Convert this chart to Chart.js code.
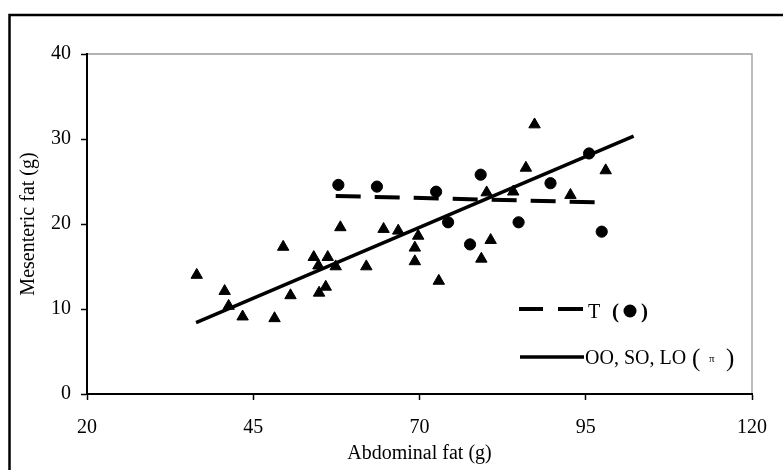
<!DOCTYPE html>
<html>
<head>
<meta charset="utf-8">
<script src="https://cdn.jsdelivr.net/npm/chart.js@4.4.1/dist/chart.umd.min.js"></script>
<style>
  html, body { margin: 0; padding: 0; background: #fff; }
  #wrap { position: relative; width: 783px; height: 470px; }
</style>
</head>
<body>
<div id="wrap"><canvas id="c" width="783" height="470"></canvas></div>
<script>
// Triangles: OO, SO, LO groups
const triX = [36.5, 40.7, 41.3, 43.4, 48.2, 49.5, 50.6, 54.1, 56.2, 54.8, 57.4, 55.9, 54.9, 58.1,
              62.0, 64.6, 66.8, 69.8, 69.3, 69.3, 72.9, 80.1, 80.7, 79.3, 84.1, 86.0, 87.3, 92.7, 98.0];
const triY = [14.0, 12.1, 10.35, 9.1, 8.9, 17.3, 11.6, 16.1, 16.1, 15.1, 15.0, 12.6, 11.9, 19.6,
              15.0, 19.4, 19.2, 18.6, 17.2, 15.6, 13.3, 23.7, 18.1, 15.9, 23.8, 26.6, 31.7, 23.4, 26.3];
// Circles: T group
const circX = [57.8, 63.6, 72.5, 74.3, 77.6, 79.2, 84.9, 89.7, 95.5, 97.4];
const circY = [24.6, 24.4, 23.8, 20.2, 17.6, 25.8, 20.2, 24.8, 28.3, 19.1];
// Regression lines (endpoints)
const fitOX = [36.4, 102.2];
const fitOY = [8.4, 30.35];
const fitTX = [57.4, 96.7];
const fitTY = [23.3, 22.55];
// Axis ticks
const xTicks = [20, 45, 70, 95, 120];
const yTicks = [0, 10, 20, 30, 40];

const pts = (xs, ys) => xs.map((x, i) => ({ x: x, y: ys[i] }));
const SERIF = '"Liberation Serif", "Times New Roman", serif';

const decor = {
  id: 'decor',
  beforeDraw(chart) {
    const ctx = chart.ctx;
    ctx.save();
    ctx.strokeStyle = '#000';
    ctx.lineWidth = 2.5;
    ctx.beginPath();
    ctx.moveTo(9.5, 470);
    ctx.lineTo(9.5, 15);
    ctx.lineTo(783, 15);
    ctx.stroke();
    ctx.restore();
  },
  afterDraw(chart) {
    const ctx = chart.ctx;
    const a = chart.chartArea;
    ctx.save();
    // gray plot frame top & right
    ctx.strokeStyle = '#9a9a9a';
    ctx.lineWidth = 1.3;
    ctx.beginPath();
    ctx.moveTo(a.left + 1, a.top);
    ctx.lineTo(a.right, a.top);
    ctx.lineTo(a.right, a.bottom - 1);
    ctx.stroke();

    // legend
    ctx.strokeStyle = '#000';
    ctx.fillStyle = '#000';
    ctx.lineWidth = 4;
    ctx.beginPath();
    ctx.moveTo(519, 309); ctx.lineTo(543, 309);
    ctx.moveTo(558, 309); ctx.lineTo(583, 309);
    ctx.stroke();
    ctx.lineWidth = 3.5;
    ctx.beginPath();
    ctx.moveTo(520, 357); ctx.lineTo(584, 357);
    ctx.stroke();

    ctx.textBaseline = 'alphabetic';
    ctx.textAlign = 'left';
    ctx.font = '20px ' + SERIF;
    ctx.fillText('T', 588, 318);
    ctx.font = 'bold 21px ' + SERIF;
    ctx.fillText('(', 612, 318);
    ctx.fillText(')', 641, 318);
    ctx.beginPath();
    ctx.arc(630, 311, 6.5, 0, Math.PI * 2);
    ctx.fill();

    ctx.font = '20px ' + SERIF;
    ctx.fillText('OO, SO, LO', 585, 364);
    ctx.font = '25px ' + SERIF;
    ctx.fillText('(', 692, 366);
    ctx.fillText(')', 726, 366);
    ctx.font = '11px ' + SERIF;
    ctx.fillText('\u03c0', 709, 362);
    ctx.restore();
  }
};

new Chart(document.getElementById('c'), {
  type: 'scatter',
  data: {
    datasets: [
      { label: 'OO, SO, LO', data: pts(triX, triY), pointStyle: 'triangle', pointRadius: 6.6,
        backgroundColor: '#000', borderColor: '#000', borderWidth: 1 },
      { label: 'T', data: pts(circX, circY), pointStyle: 'circle', pointRadius: 5.6,
        backgroundColor: '#000', borderColor: '#000', borderWidth: 1 },
      { label: 'fitO', data: pts(fitOX, fitOY), showLine: true, pointRadius: 0,
        borderColor: '#000', borderWidth: 3.5, fill: false },
      { label: 'fitT', data: pts(fitTX, fitTY), showLine: true, pointRadius: 0,
        borderColor: '#000', borderWidth: 4, borderDash: [25, 14], borderCapStyle: 'butt', fill: false }
    ]
  },
  options: {
    responsive: false,
    animation: false,
    devicePixelRatio: 1,
    layout: { padding: { top: 54, right: 28, left: 0, bottom: 0 } },
    plugins: { legend: { display: false }, tooltip: { enabled: false } },
    scales: {
      x: {
        type: 'linear', min: 20, max: 120,
        afterBuildTicks: s => { s.ticks = xTicks.map(v => ({ value: v })); },
        afterFit: s => { s.height = 76; },
        ticks: { color: '#000', font: { family: SERIF, size: 20 }, padding: 16, maxRotation: 0 },
        grid: { display: true, drawOnChartArea: false, drawTicks: true, tickLength: 6, tickColor: '#000', tickWidth: 1.5 },
        border: { display: true, color: '#000', width: 2 },
        title: { display: true, text: 'Abdominal fat (g)', color: '#000',
                 font: { family: SERIF, size: 20 }, padding: { top: 0, bottom: 4 } }
      },
      y: {
        type: 'linear', min: 0, max: 40,
        afterBuildTicks: s => { s.ticks = yTicks.map(v => ({ value: v })); },
        afterFit: s => { s.width = 87; },
        ticks: { color: '#000', font: { family: SERIF, size: 20 }, padding: 10 },
        grid: { display: true, drawOnChartArea: false, drawTicks: true, tickLength: 6, tickColor: '#000', tickWidth: 1.5 },
        border: { display: true, color: '#000', width: 2 },
        title: { display: true, text: 'Mesenteric fat (g)', color: '#000',
                 font: { family: SERIF, size: 20 }, padding: { top: 17, bottom: 0 } }
      }
    }
  },
  plugins: [decor]
});
</script>
</body>
</html>
